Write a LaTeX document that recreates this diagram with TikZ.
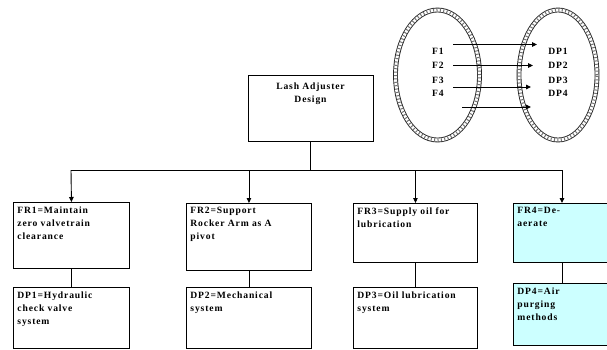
\documentclass[tikz,border=0pt]{standalone}
\usepackage{fontspec}
\setmainfont{Liberation Serif}
\newfontfamily\boxfont[LetterSpace=9]{Liberation Serif}
\usetikzlibrary{arrows.meta,shapes.geometric}
\definecolor{lightcyan}{HTML}{CCFFFF}
\tikzset{
  box/.style={draw=black, line width=0.9pt, fill=white, anchor=north west, inner sep=4pt, font=\boxfont\bfseries\fontsize{9.6}{13}\selectfont},
  cyanbox/.style={box, fill=lightcyan},
  conn/.style={draw=black, line width=0.9pt},
  arr/.style={conn, -{Triangle[length=5pt,width=4.5pt]}},
  setlbl/.style={font=\boxfont\bfseries\fontsize{9.6}{10}\selectfont, inner sep=0pt},
  bandout/.style={line width=4.8pt, black!85},
  bandin/.style={line width=3pt, white},
  bandhatch/.style={line width=3pt, black!55, dash pattern=on 1pt off 2.4pt},
}
\newcommand{\boxtext}[3]{\parbox[t][#2pt][t]{#1pt}{\raggedright #3}}
\begin{document}
\begin{tikzpicture}[x=1pt,y=-1pt]
\clip (0,0) rectangle (607,349);
\fill[white] (0,0) rectangle (607,349);

% ellipses (sets)
\node[ellipse, minimum width=84pt, minimum height=130pt, inner sep=0pt] (setF) at (437.5,75) {};
\node[ellipse, minimum width=78pt, minimum height=130pt, inner sep=0pt] (setD) at (558,75) {};
\foreach \e/\w in {setF/42,setD/39}{
  \draw[bandout] (\e.center) ellipse ({\w pt} and 65pt);
  \draw[bandin] (\e.center) ellipse ({\w pt} and 65pt);
  \draw[bandhatch] (\e.center) ellipse ({\w pt} and 65pt);
}

% labels in sets
\node[setlbl] (f1) at (438,51) {F1};
\node[setlbl] (f2) at (438,65.5) {F2};
\node[setlbl] (f3) at (438,80) {F3};
\node[setlbl] (f4) at (438,93.5) {F4};
\node[setlbl] (d1) at (558,51) {DP1};
\node[setlbl] (d2) at (558,65.5) {DP2};
\node[setlbl] (d3) at (558,80) {DP3};
\node[setlbl] (d4) at (558,93.5) {DP4};

% mapping arrows
\coordinate (m1s) at (453,44.5);  \coordinate (m1e) at (537,44.5);
\coordinate (m2s) at (453,65.5);  \coordinate (m2e) at (533,65.5);
\coordinate (m3s) at (453,87);    \coordinate (m3e) at (531,87);
\coordinate (m4s) at (462,107);   \coordinate (m4e) at (531,107);
\foreach \i in {1,2,3,4}{\draw[arr] (m\i s) -- (m\i e);}

% top box
\node[box, minimum width=125pt, minimum height=66pt, align=center, anchor=north] (top) at (310.5,75)
  {\parbox[t][58pt][t]{117pt}{\vspace*{3pt}\centering Lash Adjuster\\Design}};

% FR boxes
\node[box, minimum width=116pt, minimum height=66pt] (fr1) at (13,202)
  {\boxtext{108}{58}{FR1=Maintain\\zero valvetrain\\clearance}};
\node[box, minimum width=125pt, minimum height=67pt] (fr2) at (186,203)
  {\boxtext{117}{59}{FR2=Support\\Rocker Arm as A\\pivot}};
\node[box, minimum width=124pt, minimum height=59pt] (fr3) at (353,203)
  {\boxtext{116}{51}{FR3=Supply oil for\\lubrication}};
\node[cyanbox, minimum width=96pt, minimum height=59pt] (fr4) at (513,203)
  {\boxtext{88}{51}{FR4=De-\\aerate}};

% DP boxes
\node[box, minimum width=116pt, minimum height=61pt] (dp1) at (13,287)
  {\boxtext{108}{53}{DP1=Hydraulic\\check valve\\system}};
\node[box, minimum width=125pt, minimum height=61pt] (dp2) at (186,287)
  {\boxtext{117}{53}{DP2=Mechanical\\system}};
\node[box, minimum width=124pt, minimum height=60.5pt] (dp3) at (353,287)
  {\boxtext{116}{52}{DP3=Oil lubrication\\system}};
\node[cyanbox, minimum width=96pt, minimum height=62pt] (dp4) at (513,283)
  {\boxtext{88}{54}{DP4=Air\\purging\\methods}};

% tree connectors
\coordinate (busL) at (71,170);
\coordinate (busR) at (562,170);
\draw[conn] (top.south) -- (top.south |- busL);
\draw[conn] (busL) -- (busR);
\draw[arr] (busL) -- (fr1.north);
\draw[arr] (fr2.north |- busL) -- (fr2.north);
\draw[arr] (fr3.north |- busL) -- (fr3.north);
\draw[arr] (busR) -- (busR |- fr4.north);
\draw[conn] (fr1.south) -- (dp1.north);
\draw[conn] (fr2.south) -- (dp2.north);
\draw[conn] (fr3.south) -- (dp3.north);
\draw[conn] (busR |- fr4.south) -- (busR |- dp4.north);
\end{tikzpicture}
\end{document}
